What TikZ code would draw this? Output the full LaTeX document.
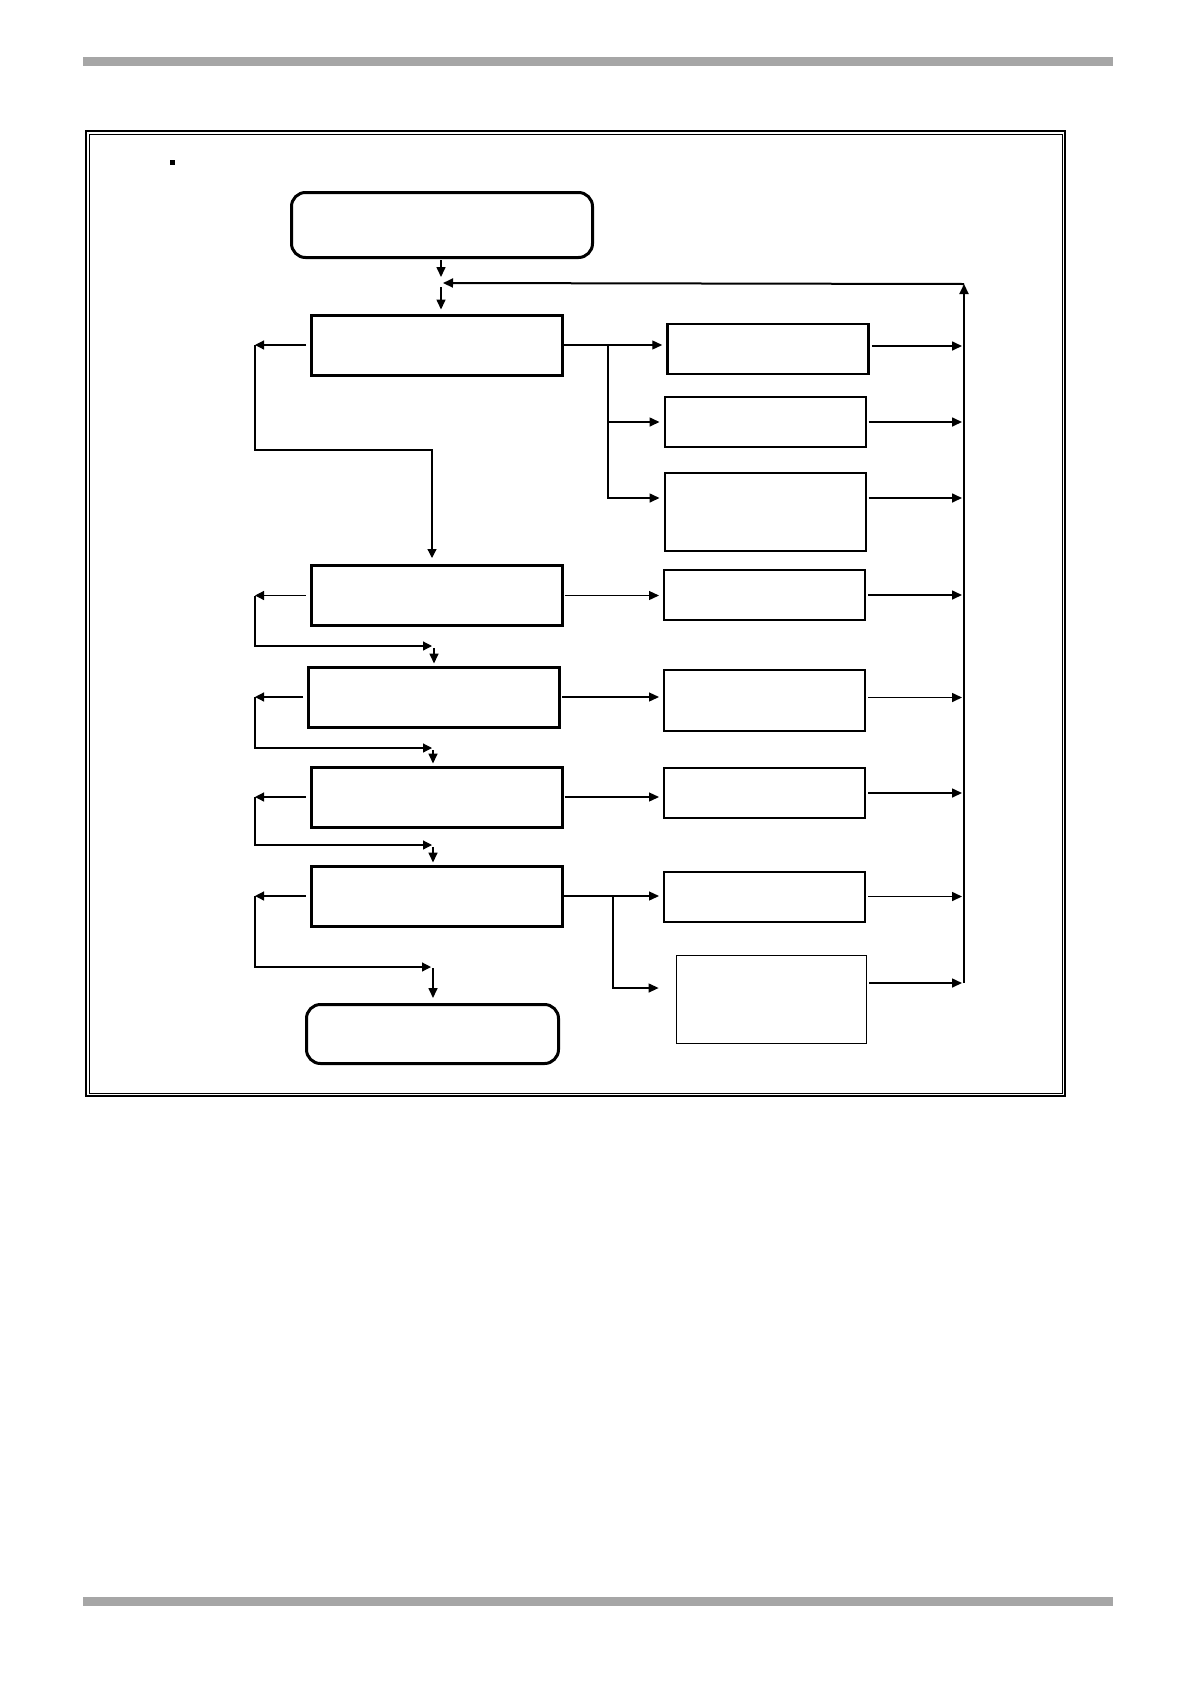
\documentclass[tikz,border=0pt]{standalone}
\usepackage{tikz}
\usetikzlibrary{arrows.meta,positioning}

\begin{document}
\begin{tikzpicture}[x=1pt,y=-1pt,
    stepbox/.style={draw, line width=3pt, inner sep=0pt, minimum width=251pt, minimum height=60pt},
    endbox/.style={stepbox, rounded corners=14pt},
    sidebox/.style={draw, line width=2pt, inner sep=0pt, minimum width=201pt, minimum height=50pt},
    flow/.style={-{Triangle[length=10pt,width=9pt]}, line width=1.6pt},
    back/.style={-{Triangle[length=9pt,width=9pt]}, line width=1.2pt}]
        % Page size, rules and frame
        \useasboundingbox (0,0) rectangle (1190,1684);
        \fill[black!35] (83,57) rectangle (1113,66);
        \fill[black!35] (83,1597) rectangle (1113,1606);
        \draw[line width=1.5pt] (86,131) rectangle (1065,1096);
        \draw[line width=0.8pt] (89,134) rectangle (1062,1093);
        \fill (169.5,159.5) rectangle (174.5,164.5);
        % Define the main column
        \node[endbox, minimum width=301pt, minimum height=65pt] (start) at (442,225) {};
        \node[stepbox] (s1) at (437,345) {};
        \node[stepbox] (s2) at (436.5,595.5) {};
        \node[stepbox] (s3) at (434,697) {};
        \node[stepbox] (s4) at (436.5,797) {};
        \node[stepbox] (s5) at (436.5,896) {};
        \node[endbox, minimum width=252pt, minimum height=59pt] (stop) at (432.5,1034) {};
        % Define the side column
        \node[sidebox, line width=2.5pt] (r1) at (768,349) {};
        \node[sidebox] (r2) at (765,422) {};
        \node[sidebox, minimum height=78pt] (r3) at (765,512) {};
        \node[sidebox] (r4) at (764.5,595) {};
        \node[sidebox, minimum height=61pt] (r5) at (764.5,700.5) {};
        \node[sidebox] (r6) at (764.5,793) {};
        \node[sidebox] (r7) at (764.5,896.5) {};
        \node[sidebox, line width=1.8pt, minimum width=190pt, minimum height=88pt] (r8) at (771.5,999.5) {};
        % Points of the connectors
        \coordinate (join) at (441,283);
        \coordinate (busT) at (964,284);
        \coordinate (busB) at (964,983);
        \coordinate (fork1) at (608,345);
        \coordinate (fork5) at (613,896);
        \coordinate (l1) at (255,345);
        \coordinate (l2) at (255,595.5);
        \coordinate (l3) at (255,697);
        \coordinate (l4) at (255,797);
        \coordinate (l5) at (255,896);
        \coordinate (k1) at (432,450);
        \coordinate (k2) at (432,646);
        \coordinate (k3) at (432,748);
        \coordinate (k4) at (432,845);
        \coordinate (k5) at (431,967);
        % Draw the entry and the return line
        \draw[flow, shorten <=1pt] (start.south -| join) -- ([yshift=6pt]join);
        \draw[flow, shorten >=4pt] ([yshift=-4pt]join) -- (join |- s1.north);
        \draw[flow, line width=2pt] (busB) -- (busT);
        \draw[flow, line width=2pt] (busT) -- ([xshift=2pt]join);
        % Draw the left loops
        \draw[back, shorten <=4pt] (s1.west) -- (l1);
        \draw[back, shorten >=6pt] (l1) |- (k1) -- (k1 |- s2.north);
        \draw[back, shorten <=4pt] (s2.west) -- (l2);
        \draw[back] (l2) |- (k2);
        \draw[flow, shorten <=2pt, shorten >=2pt] ([xshift=2pt]k2) -- ([xshift=2pt]k2 |- s3.north);
        \draw[back, shorten <=4pt] (s3.west) -- (l3);
        \draw[back] (l3) |- (k3);
        \draw[flow, shorten <=2pt, shorten >=2pt] ([xshift=1pt]k3) -- ([xshift=1pt]k3 |- s4.north);
        \draw[back, shorten <=4pt] (s4.west) -- (l4);
        \draw[back] (l4) |- (k4);
        \draw[flow, shorten <=2pt, shorten >=2pt] ([xshift=1pt]k4) -- ([xshift=1pt]k4 |- s5.north);
        \draw[back, shorten <=4pt] (s5.west) -- (l5);
        \draw[back] (l5) |- (k5);
        \draw[flow, shorten <=1pt, shorten >=5pt] ([xshift=2pt]k5) -- ([xshift=2pt]k5 |- stop.north);
        % Draw the arrows to the side column
        \draw[line width=1.3pt] (s1.east) -- (fork1);
        \draw[flow, line width=1.3pt, shorten >=4pt] (fork1) -- (fork1 -| r1.west);
        \draw[flow, line width=1.6pt, shorten >=4pt] (fork1) |- (r2.west);
        \draw[flow, line width=1.6pt, shorten >=4pt] (fork1) |- ([yshift=14pt]r3.west);
        \draw[flow, line width=1.3pt, shorten <=1pt, shorten >=4pt] (s2.east) -- (s2.east -| r4.west);
        \draw[flow, line width=1.3pt, shorten <=1pt, shorten >=4pt] (s3.east) -- (s3.east -| r5.west);
        \draw[flow, line width=1.3pt, shorten <=1pt, shorten >=4pt] (s4.east) -- (s4.east -| r6.west);
        \draw[line width=1.3pt] (s5.east) -- (fork5);
        \draw[flow, line width=1.3pt, shorten >=4pt] (fork5) -- (fork5 -| r7.west);
        \draw[flow, line width=1.3pt, shorten >=17pt] (fork5) |- ([yshift=11.5pt]r8.west);
        % Draw the arrows to the return line
        \draw[flow, shorten <=2pt, shorten >=2pt] ([yshift=3pt]r1.east) -- ([yshift=3pt]r1.east -| busT);
        \draw[flow, shorten <=2pt, shorten >=2pt] (r2.east) -- (r2.east -| busT);
        \draw[flow, shorten <=2pt, shorten >=2pt] ([yshift=14pt]r3.east) -- ([yshift=14pt]r3.east -| busT);
        \draw[flow, shorten <=2pt, shorten >=2pt] (r4.east) -- (r4.east -| busT);
        \draw[flow, shorten <=2pt, shorten >=2pt] ([yshift=3pt]r5.east) -- ([yshift=3pt]r5.east -| busT);
        \draw[flow, shorten <=2pt, shorten >=2pt] (r6.east) -- (r6.east -| busT);
        \draw[flow, shorten <=2pt, shorten >=2pt] (r7.east) -- (r7.east -| busT);
        \draw[flow, shorten <=2pt, shorten >=2pt] (r8.east |- busB) -- (busB);
\end{tikzpicture}
\end{document}
